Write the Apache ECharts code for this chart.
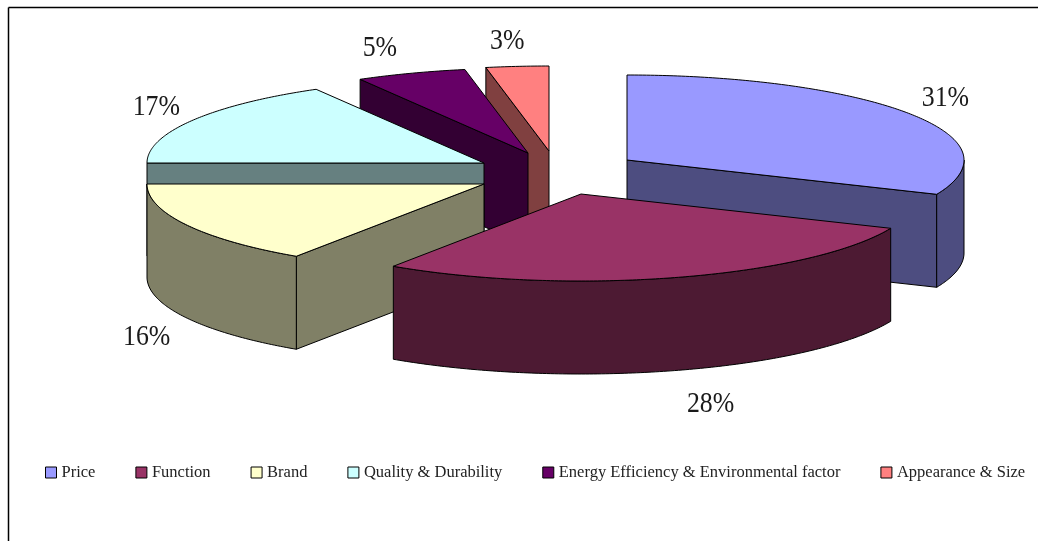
<!DOCTYPE html>
<html><head><meta charset="utf-8">
<style>html,body{margin:0;padding:0;background:#fff}#c{width:1038px;height:541px}</style>
<script src="https://cdn.jsdelivr.net/npm/echarts@6/dist/echarts.min.js"></script>
</head><body><div id="c"></div>
<script>
const categories = ['Price','Function','Brand','Quality & Durability','Energy Efficiency & Environmental factor','Appearance & Size'];
const shares = [31.45,27.95,15.6,16.7,5.3,3.0];
const topColors = ['#9999FF','#993366','#FFFFCC','#CCFFFF','#660066','#FF8080'];
const sideColors = ['#4D4D80','#4D1A33','#808066','#668080','#330033','#804040'];

// Projection of the 3D pie (the near half of the ellipse is slightly deeper: perspective)
const radiusX = 337, radiusYFar = 85, radiusYNear = 87, depth = 93;
const sliceApexX = [627,581,484,484,528,549];
const sliceApexY = [160,194,184,163,153,151];
const labelNudgeX = [37,34,-40,-36,-31,-10];
const labelNudgeY = [-15,34,19,-13,-25,-25];
const paintOrder = [5,4,3,2,0,1];
const total = shares.reduce((a,b)=>a+b,0);
const starts = shares.map((_,i)=>shares.slice(0,i).reduce((a,b)=>a+b,0));
const rad = d => d*Math.PI/180;

function renderSlice(i){
  return function(params, api){
    const from = api.value(0)/total*360, to = from + api.value(1)/total*360;
    const cx = sliceApexX[i], cy = sliceApexY[i];
    const rim = d => {const c=Math.cos(rad(d));return [cx+radiusX*Math.sin(rad(d)), cy-(c<0?radiusYNear:radiusYFar)*c];};
    const down = p => [p[0],p[1]+depth];
    const arc = (a,b)=>{const n=Math.max(2,Math.ceil((b-a)*1.5)),r=[];for(let k=0;k<=n;k++)r.push(rim(a+(b-a)*k/n));return r;};
    const side = sideColors[i], top = topColors[i];
    const poly = (points,fill)=>({type:'polygon',shape:{points},style:{fill,stroke:'#000',lineWidth:1}});
    const kids = [];
    const apex=[cx,cy];
    if(Math.sin(rad(to))>1e-6) kids.push(poly([apex,rim(to),down(rim(to)),down(apex)],side));
    if(Math.sin(rad(from))<-1e-6) kids.push(poly([apex,rim(from),down(rim(from)),down(apex)],side));
    const a0=Math.max(from,90), a1=Math.min(to,270);
    if(a1>a0){const e=arc(a0,a1);kids.push(poly(e.concat(e.map(down).reverse()),side));}
    kids.push(poly([apex].concat(arc(from,to)),top));
    const mid=(from+to)/2, base=rim(mid);
    const lift=Math.cos(rad(mid))<0?depth:0;
    kids.push({type:'text',x:base[0]+labelNudgeX[i],y:base[1]+lift+labelNudgeY[i],scaleX:0.86,
      style:{text:Math.round(api.value(1))+'%',x:0,y:0,
      align:'center',verticalAlign:'middle',fill:'#1a1a1a',font:'30px "Liberation Serif"'}});
    return {type:'group',children:kids};
  };
}
const chart = echarts.init(document.getElementById('c'),null,{renderer:'canvas'});
chart.setOption({
  animation:false,
  backgroundColor:'#fff',
  legend:{data:categories,left:40,top:459,itemWidth:11,itemHeight:11,itemGap:40,icon:'rect',
    itemStyle:{borderColor:'#000',borderWidth:1},
    textStyle:{fontFamily:'Liberation Serif',fontSize:16.5,color:'#222',padding:[0,0,0,0]}},
  graphic:[
    {type:'line',shape:{x1:8.5,y1:7.5,x2:1038,y2:7.5},style:{stroke:'#000',lineWidth:1.5},silent:true},
    {type:'line',shape:{x1:8.5,y1:7.5,x2:8.5,y2:541},style:{stroke:'#000',lineWidth:1.5},silent:true}
  ],
  series:paintOrder.map((i,n)=>({
    type:'custom',name:categories[i],coordinateSystem:'none',silent:true,z:2+n,
    itemStyle:{color:topColors[i]},
    data:[[starts[i],shares[i]]],renderItem:renderSlice(i)
  }))
});
</script></body></html>
